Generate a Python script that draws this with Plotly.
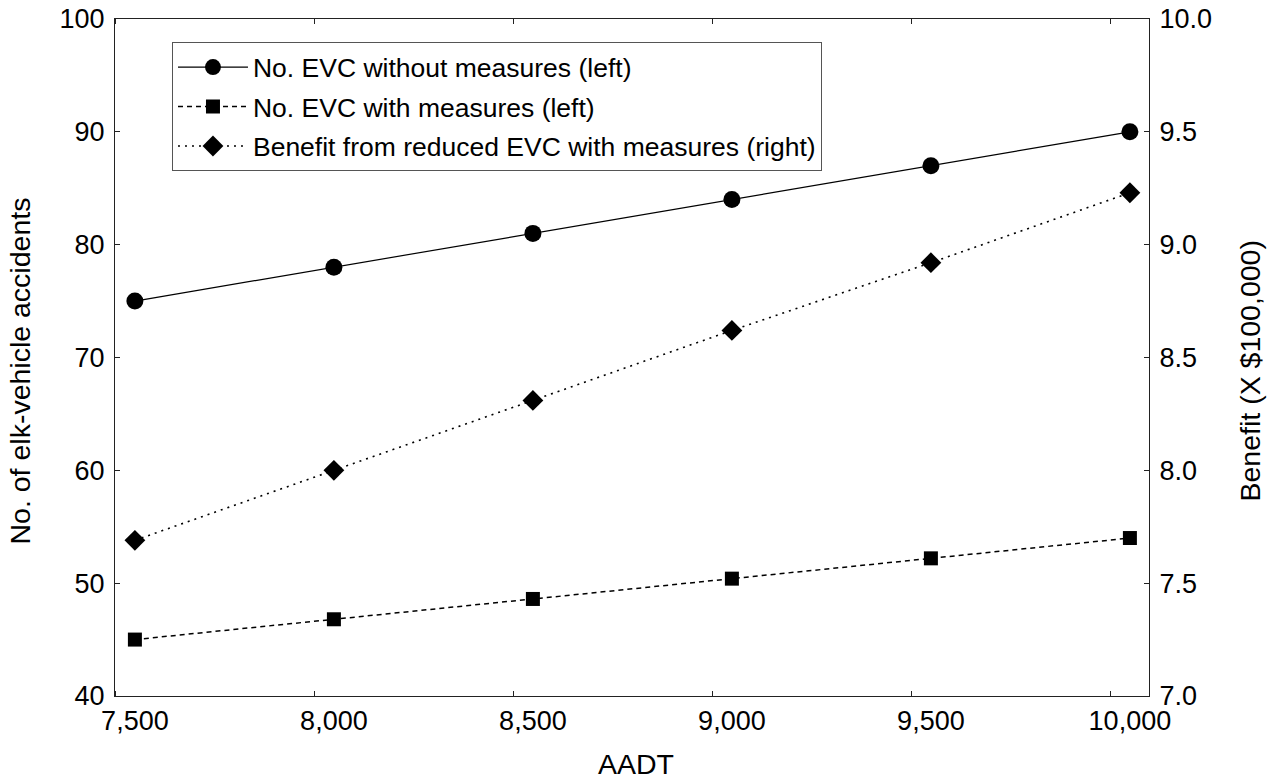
import plotly.graph_objects as go

# AADT levels and the three series
aadt = [7500, 8000, 8500, 9000, 9500, 10000]
aadt_labels = ["7,500", "8,000", "8,500", "9,000", "9,500", "10,000"]
evc_without = [75, 78, 81, 84, 87, 90]
evc_with = [45, 46.8, 48.6, 50.4, 52.2, 54]
benefit = [7.69, 8.00, 8.31, 8.62, 8.92, 9.23]

left_ticks = [40, 50, 60, 70, 80, 90, 100]
right_ticks = [7.0, 7.5, 8.0, 8.5, 9.0, 9.5, 10.0]

FONT = "Liberation Sans, Arial, sans-serif"
AXIS_COLOR = "#222222"
TITLE_SIZE = 28.5

fig = go.Figure()

fig.add_trace(go.Scatter(
    x=aadt, y=evc_without, name="No. EVC without measures (left)",
    mode="lines+markers", legendgroup="a",
    line=dict(color="black", width=1.2),
    marker=dict(symbol="circle", size=17, color="black"),
))
fig.add_trace(go.Scatter(
    x=aadt, y=evc_with, name="No. EVC with measures (left)",
    mode="lines+markers", legendgroup="b",
    line=dict(color="black", width=1.5, dash="5px,4px"),
    marker=dict(symbol="square", size=14, color="black"),
))
fig.add_trace(go.Scatter(
    x=aadt, y=benefit, name="Benefit from reduced EVC with measures (right)",
    mode="lines+markers", yaxis="y2", legendgroup="c",
    line=dict(color="black", width=1.6, dash="2px,5px"),
    marker=dict(symbol="diamond", size=16, color="black"),
))

# tick marks sit half a step to the left of the value labels
tick_marks = [v - 50 for v in aadt]

fig.update_layout(
    width=1276, height=782,
    margin=dict(l=115, r=127, t=19, b=86),
    paper_bgcolor="white", plot_bgcolor="white",
    font=dict(family=FONT, size=27, color="black"),
    showlegend=True,
    legend=dict(
        x=0.0551, y=0.9655, xanchor="left", yanchor="top",
        bgcolor="white", bordercolor="#555555", borderwidth=1,
        font=dict(size=26.5), itemwidth=70, tracegroupgap=2,
    ),
    xaxis=dict(
        range=[7450, 10048], automargin=False,
        tickmode="array", tickvals=aadt, ticktext=aadt_labels,
        ticks="", showgrid=False, zeroline=False,
        showline=True, linecolor=AXIS_COLOR, linewidth=1.3, mirror="ticks",
        minor=dict(tickmode="array", tickvals=tick_marks, ticks="inside",
                   ticklen=5, tickcolor=AXIS_COLOR, tickwidth=1, showgrid=False),
    ),
    yaxis=dict(
        range=[40, 100], tickmode="array", tickvals=left_ticks, automargin=False,
        ticks="inside", ticklen=5, tickcolor=AXIS_COLOR, ticklabelstandoff=4,
        showgrid=False, zeroline=False,
        showline=True, linecolor=AXIS_COLOR, linewidth=1.3, mirror=True,
    ),
    yaxis2=dict(
        range=[7.0, 10.0], tickmode="array", tickvals=right_ticks, automargin=False,
        tickformat=".1f", overlaying="y", side="right",
        ticks="inside", ticklen=5, tickcolor=AXIS_COLOR, ticklabelstandoff=4,
        showgrid=False, zeroline=False,
        showline=True, linecolor=AXIS_COLOR, linewidth=1.3,
    ),
)

# axis titles
title_font = dict(family=FONT, size=TITLE_SIZE, color="black")
fig.add_annotation(text="AADT", xref="paper", yref="paper", x=0.5, y=0,
                   xshift=4, yshift=-68, xanchor="center", yanchor="middle",
                   showarrow=False, font=title_font)
fig.add_annotation(text="No. of elk-vehicle accidents", xref="paper", yref="paper",
                   x=0, y=0.5, xshift=-96, yshift=-14, textangle=-90,
                   xanchor="center", yanchor="middle", showarrow=False, font=title_font)
fig.add_annotation(text="Benefit (X $100,000)", xref="paper", yref="paper",
                   x=1, y=0.5, xshift=100, yshift=-14, textangle=-90,
                   xanchor="center", yanchor="middle", showarrow=False, font=title_font)

fig.write_html("out.html")
